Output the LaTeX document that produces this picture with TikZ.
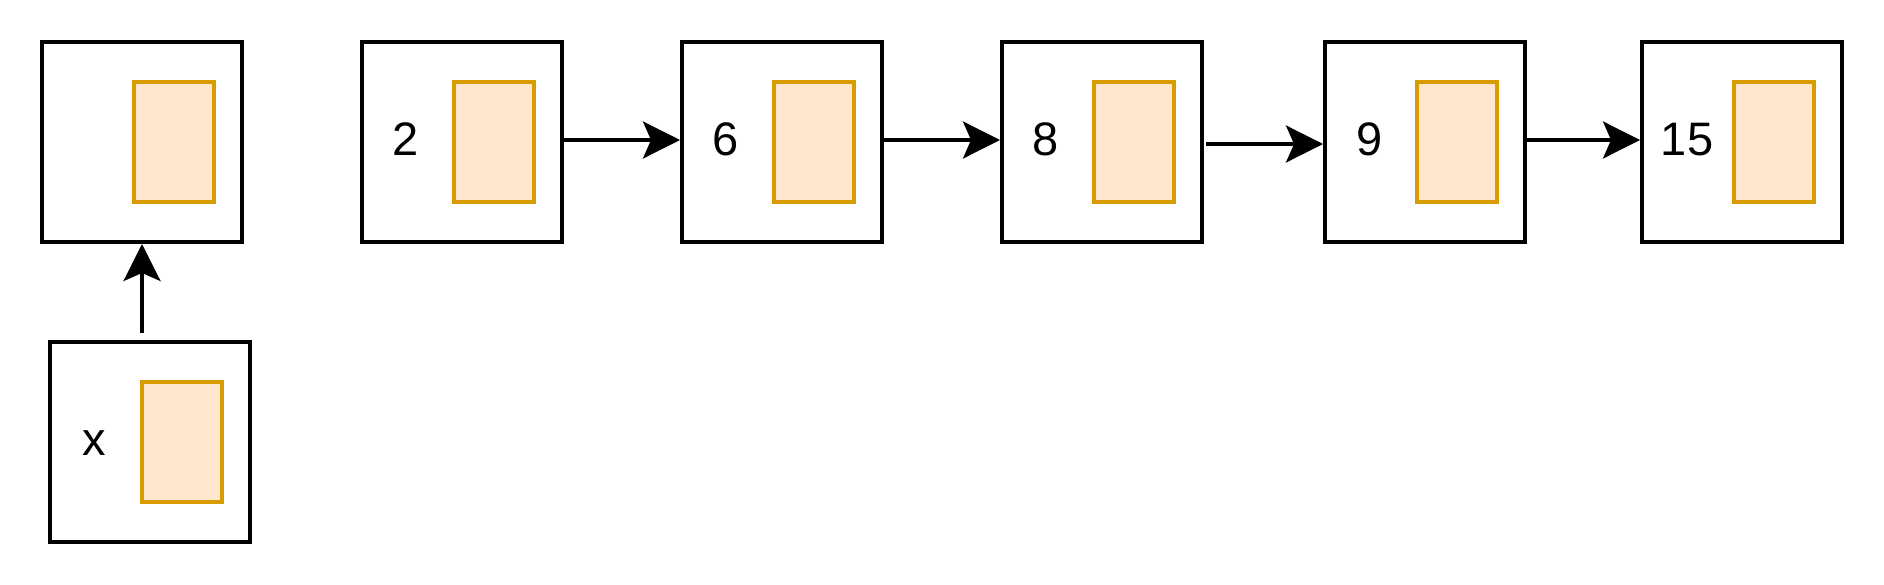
\documentclass[tikz,border=0pt]{standalone}
\usepackage{fontspec}
\setmainfont{Liberation Sans}
\usetikzlibrary{arrows.meta}
\definecolor{ptrline}{HTML}{D79B00}
\definecolor{ptrfill}{HTML}{FFE6CC}
\tikzset{
  cell/.style={draw=black, line width=4pt, minimum width=200pt, minimum height=200pt, inner sep=0pt, fill=white},
  ptrbox/.style={draw=ptrline, fill=ptrfill, line width=3.6pt, minimum width=80pt, minimum height=120pt, inner sep=0pt},
  val/.style={anchor=base, inner sep=0pt, font=\fontsize{47}{56}\selectfont},
  link/.style={draw=black, line width=3.6pt, -{Stealth[length=37pt, width=37pt, inset=8pt]}}
}
\begin{document}
\begin{tikzpicture}[x=1pt, y=-1pt]
\useasboundingbox (0,0) rectangle (1884,584);
% top row cells
\node[cell] (b1)  at (142,142)  {};
\node[cell] (b2)  at (462,142)  {};
\node[cell] (b6)  at (782,142)  {};
\node[cell] (b8)  at (1102,142) {};
\node[cell] (b9)  at (1425,142) {};
\node[cell] (b15) at (1742,142) {};
% new node cell
\node[cell] (bx)  at (150,442)  {};
% pointer fields
\node[ptrbox] (p1)  at (174,142)  {};
\node[ptrbox] (p2)  at (494,142)  {};
\node[ptrbox] (p6)  at (814,142)  {};
\node[ptrbox] (p8)  at (1134,142) {};
\node[ptrbox] (p9)  at (1457,142) {};
\node[ptrbox] (p15) at (1774,142) {};
\node[ptrbox] (px)  at (182,442)  {};
% values
\node[val] (t2)  at (406,155)  {2};
\node[val] (t6)  at (726,155)  {6};
\node[val] (t8)  at (1046,155) {8};
\node[val] (t9)  at (1370,155) {9};
\node[val] (t15) at (1687,155) {15};
\node[val] (tx)  at (94,455)   {x};
% connectors
\coordinate (sx) at (142,333);
\coordinate (s8) at (1206,144);
\draw[link] (sx) -- (b1.south);
\draw[link] ([yshift=2pt]b2.east) -- ([yshift=2pt]b6.west);
\draw[link] ([yshift=2pt]b6.east) -- ([yshift=2pt]b8.west);
\draw[link] (s8) -- (s8 -| b9.west);
\draw[link] ([yshift=2pt]b9.east) -- ([yshift=2pt]b15.west);
\end{tikzpicture}
\end{document}
